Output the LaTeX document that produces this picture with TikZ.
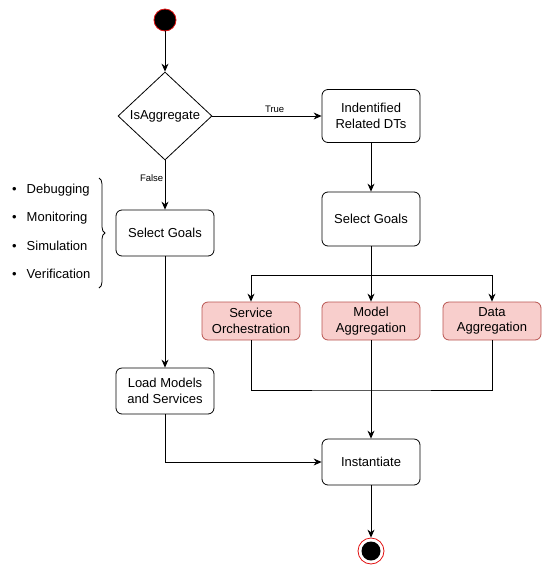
\documentclass[tikz,border=0pt]{standalone}
\usepackage{fontspec}
\setmainfont{Liberation Sans}
\usepackage{tikz}
\usetikzlibrary{arrows.meta,shapes.geometric,decorations.pathreplacing}
\definecolor{pinkfill}{HTML}{F8CECC}
\definecolor{pinkline}{HTML}{B85450}
\definecolor{dotred}{HTML}{E01010}
\tikzset{
  act/.style={draw, rounded corners=6pt, line width=0.8pt, minimum width=98pt,
    minimum height=46pt, align=center, font=\fontsize{13}{15.5}\selectfont},
  redact/.style={act, fill=pinkfill, draw=pinkline, minimum height=38pt},
  flow/.style={line width=0.8pt, -{Stealth[length=8pt,width=7pt]}},
  plain/.style={line width=0.8pt},
  lbl/.style={font=\fontsize{9.5}{11}\selectfont}
}
\begin{document}
\begin{tikzpicture}[x=1pt,y=-1pt]
\useasboundingbox (0,0) rectangle (543,566);
\node[circle, fill=black, draw=dotred, line width=0.8pt, minimum size=22pt, inner sep=0] (start) at (165,20) {};
\node[diamond, draw, line width=0.8pt, minimum width=94pt, minimum height=88pt, inner sep=0,
  font=\fontsize{13}{15.5}\selectfont] (isagg) at (165,116) {IsAggregate};
\node[act, minimum height=53pt] (ident) at (371,116) {Indentified\\Related DTs};
\node[act, minimum height=54pt] (goalsR) at (371,219) {Select Goals};
\node[act] (goalsL) at (165,233) {Select Goals};
\node[redact] (service) at (251,321) {Service\\Orchestration};
\node[redact] (model) at (371,321) {Model\\Aggregation};
\node[redact] (data) at (492,321) {Data\\Aggregation};
\node[act] (load) at (165,391) {Load Models\\and Services};
\node[act] (inst) at (371,462) {Instantiate};
\node[circle, draw=dotred, line width=0.8pt, minimum size=26pt, inner sep=0] (stop) at (371,551) {};
\node[circle, fill=black, minimum size=19pt, inner sep=0] at (stop) {};
\foreach \g [count=\i] in {Debugging,Monitoring,Simulation,Verification}{
  \node[anchor=west, inner sep=0, font=\fontsize{13}{15.5}\selectfont] (goal\i) at (12,162+28*\i) {\textbullet\hspace{10pt}\g};
}
\coordinate (split) at (371,275);
\coordinate (join) at (371,390);
\draw[plain, decorate, decoration={brace, amplitude=6pt}] (99,178) -- (99,288);
\draw[flow] (start) -- (isagg);
\draw[flow] (isagg) -- node[lbl, above, pos=0.57] {True} (ident);
\draw[flow] (isagg) -- node[lbl, left, pos=0.35, xshift=2pt] {False} (goalsL);
\draw[flow] (ident) -- (goalsR);
\draw[flow] (goalsR) -- (model);
\draw[flow] (split) -| (service);
\draw[flow] (split) -| (data);
\draw[plain] (service) |- (join) -| (data);
\draw[flow] (model) -- (inst);
\draw[flow] (goalsL) -- (load);
\draw[flow] (load) |- (inst);
\draw[flow] (inst) -- (stop);
\end{tikzpicture}
\end{document}
